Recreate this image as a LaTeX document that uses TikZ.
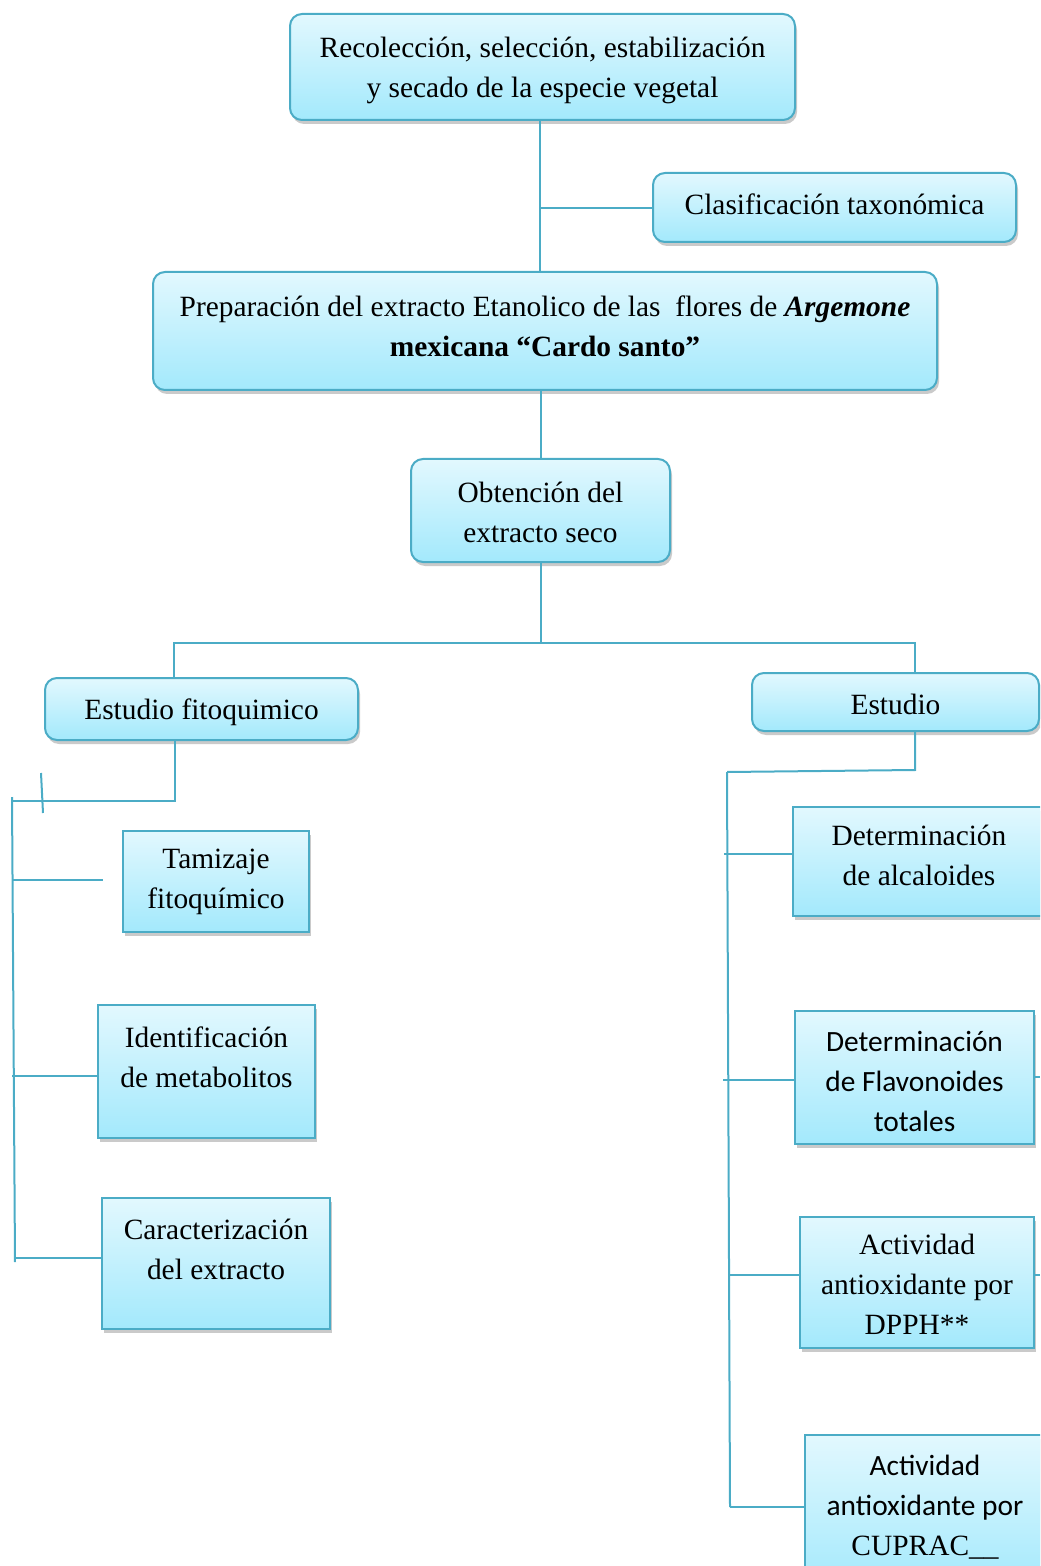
\documentclass[tikz,border=0pt]{standalone}
\usepackage{fontspec}
\setmainfont{Liberation Serif}
\newfontfamily\calibri{Carlito}
\usetikzlibrary{shadows}

\definecolor{linea}{RGB}{75,172,198}
\definecolor{cajaArriba}{RGB}{226,248,254}
\definecolor{cajaAbajo}{RGB}{163,233,252}

\tikzset{
  caja/.style={draw=linea, line width=1pt, top color=cajaArriba, bottom color=cajaAbajo,
    align=center, inner sep=0pt, font=\fontsize{14.7}{20}\selectfont,
    drop shadow={shadow xshift=1pt, shadow yshift=-2pt, opacity=0.35, fill=black!60}},
  cajaR/.style={caja, rounded corners=6pt},
  tam/.style 2 args={minimum width=#1, minimum height=#2},
  lineas/.style={text height=#1, text depth=0pt},
  conector/.style={draw=linea, line width=1pt},
}

\begin{document}
\begin{tikzpicture}[x=0.5pt, y=-0.5pt]

\useasboundingbox (0,0) rectangle (1040,1566);
\clip (0,0) rectangle (1040,1566);

\node[cajaR, tam={252.5pt}{53pt}, lineas=30.7pt] (recol) at (542.5,67)
  {Recolección, selección, estabilización\\y secado de la especie vegetal};
\node[cajaR, tam={181.5pt}{34.5pt}, lineas=6.7pt] (clasif) at (834.5,207.5) {Clasificación taxonómica};
\node[cajaR, tam={392pt}{59pt}, lineas=25.7pt] (prep) at (545,331)
  {Preparación del extracto Etanolico de las\ \ flores de \textbf{\textit{Argemone}}\\\textbf{mexicana “Cardo santo”}};
\node[cajaR, tam={129.5pt}{51.5pt}, lineas=31.7pt] (obt) at (540.5,510.5) {Obtención del\\extracto seco};

\node[cajaR, tam={156.5pt}{31pt}, lineas=10.7pt] (fito) at (201.5,709) {Estudio fitoquimico};
\node[cajaR, tam={143.5pt}{29pt}, lineas=12.7pt] (est) at (895.5,702) {Estudio};

\node[caja, tam={93pt}{50.5pt}, lineas=27.2pt] (tamiz) at (216,881.5) {Tamizaje\\fitoquímico};
\node[caja, tam={108.5pt}{66.5pt}, lineas=16.2pt] (ident) at (206.5,1071.5) {Identificación\\de metabolitos};
\node[caja, tam={114pt}{65.5pt}, lineas=16.2pt] (carac) at (216,1263.5) {Caracterización\\del extracto};

\node[caja, tam={126pt}{54.5pt}, lineas=23.7pt] (alc) at (919,861.5) {Determinación\\de alcaloides};
\node[caja, tam={119.5pt}{66.5pt}, lineas=54.2pt] (flav) at (914.5,1077.5) {\calibri Determinación\\\calibri de Flavonoides\\\calibri totales};
\node[caja, tam={117pt}{65.5pt}, lineas=51.7pt] (dpph) at (917,1282.5) {Actividad\\antioxidante por\\DPPH**};
\node[caja, tam={120pt}{77.5pt}, lineas=43.2pt] (cuprac) at (925,1512.5) {\calibri Actividad\\\calibri antioxidante por\\CUPRAC\_\_};

\coordinate (izq) at (174,643);
\coordinate (der) at (915,643);
\coordinate (esqI) at (175,801);
\coordinate (troncoI) at (12,797);
\coordinate (pieI) at (15,1262);
\coordinate (esqD) at (915,770);
\coordinate (troncoD) at (727,772);
\coordinate (pieD) at (730,1507);

\draw[conector] (recol.south -| 540,0) -- (prep.north -| 540,0);
\draw[conector] (540,208) -- (540,208 -| clasif.west);
\draw[conector] (prep.south -| obt.north) -- (obt.north);
\draw[conector] (obt.south) -- (obt.south |- izq);
\draw[conector] (izq |- fito.north) -- (izq) -- (der) -- (der |- est.north);

\draw[conector] (esqI |- fito.south) -- (esqI) -- (12,801);
\draw[conector] (troncoI) -- (pieI);
\draw[conector] (41,773) -- (43,813);
\draw[conector] (13,880) -- (103,880);
\draw[conector] (12,1076) -- (12,1076 -| ident.west);
\draw[conector] (15,1258) -- (15,1258 -| carac.west);

\draw[conector] (esqD |- est.south) -- (esqD) -- (troncoD);
\draw[conector] (troncoD) -- (pieD);
\draw[conector] (724,854) -- (724,854 -| alc.west);
\draw[conector] (723,1080) -- (723,1080 -| flav.west);
\draw[conector] (730,1275) -- (730,1275 -| dpph.west);
\draw[conector] (pieD) -- (pieD -| cuprac.west);
\draw[conector] (1040,1077 -| flav.east) -- (1040,1077);
\draw[conector] (1040,1275 -| dpph.east) -- (1040,1275);

\end{tikzpicture}
\end{document}
